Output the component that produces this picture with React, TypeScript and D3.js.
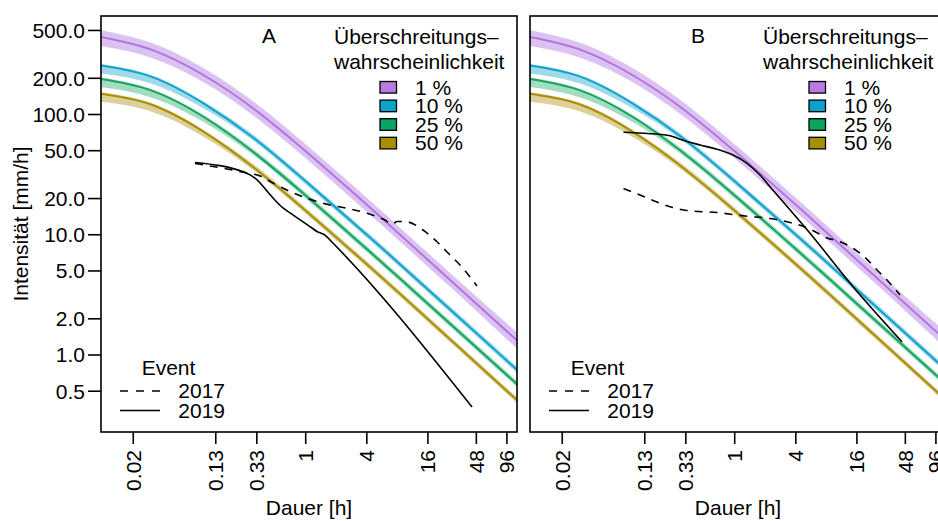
import React from "react";
import * as d3 from "d3";

// ---- data ----
const durations = [0.009, 0.03, 0.1, 0.3, 1, 4, 8, 25, 125];

const p1Mid = [445, 346, 211, 113.3, 49.4, 17.75, 10.5, 4.4, 1.285];
const p1Hi = [508, 395, 241, 129.5, 56.5, 20.3, 12.0, 5.03, 1.5];
const p1Lo = [374, 297, 184.6, 99.1, 43.2, 15.5, 9.19, 3.85, 1.1];

const p10Mid = [258, 206.7, 122.7, 64.7, 27.8, 9.99, 5.94, 2.5, 0.733];
const p10Hi = [265.5, 212.7, 127.5, 68.5, 29.4, 10.58, 6.29, 2.65, 0.776];
const p10Lo = [221, 180.8, 111.5, 61.1, 26.2, 9.43, 5.61, 2.36, 0.692];

const p25Mid = [199, 158.7, 94.9, 49.2, 21.2, 7.6, 4.51, 1.9, 0.558];
const p25Hi = [204.8, 163.3, 98.6, 52.1, 22.45, 8.05, 4.78, 2.01, 0.591];
const p25Lo = [170.7, 138.8, 86.3, 46.5, 20.0, 7.18, 4.26, 1.79, 0.527];

const p50Mid = [150, 121.1, 71.3, 36.8, 15.85, 5.69, 3.37, 1.41, 0.41];
const p50Hi = [154.3, 124.6, 74.1, 39.1, 16.8, 6.03, 3.57, 1.49, 0.434];
const p50Lo = [128.6, 106, 64.8, 34.8, 14.97, 5.37, 3.18, 1.33, 0.387];

const probLabels = ["1 %", "10 %", "25 %", "50 %"];
const probLine = ["#b174e0", "#12a2cc", "#12a563", "#a88f04"];
const probBand = ["#dcc2f1", "#9fd9ea", "#a3dcbf", "#ddd09a"];
const probFill = ["#b97be3", "#0aa3cb", "#0aa562", "#a88f00"];

const evA2019Dur = [0.0812, 0.2523, 0.3167, 0.4763, 0.5974, 0.7003, 1.154, 1.292, 1.549, 1.735, 43.5];
const evA2019Val = [39.9, 32.9, 29.6, 20.2, 16.7, 15.2, 11.38, 10.64, 9.95, 9.04, 0.369];
const evA2017Dur = [0.0812, 0.2523, 0.3547, 0.4763, 0.7003, 1.03, 1.735, 2.552, 4.018, 5.775, 7.246, 7.935, 9.954, 14.31, 19.66, 26.41, 33.13, 48.73];
const evA2017Val = [39.1, 32.9, 30.8, 26.9, 22.9, 20.1, 17.7, 16.6, 15.1, 13.5, 12.3, 12.9, 12.8, 10.95, 8.75, 6.79, 5.6, 3.75];

const evB2019Dur = [0.0802, 0.2305, 0.2891, 0.455, 0.6693, 0.9622, 1.322, 1.776, 2.228, 5.52, 14.64, 44.5];
const evB2019Val = [71.1, 66.6, 62.2, 55.8, 51.4, 46.0, 39.3, 31.4, 25.1, 10.28, 3.7, 1.29];
const evB2017Dur = [0.0802, 0.1167, 0.2305, 0.3388, 0.6693, 1.263, 2.228, 3.506, 5.52, 8.118, 10.9, 14.64, 20.11, 25.23, 31.66, 42.5];
const evB2017Val = [24.2, 21.4, 17.1, 15.9, 15.3, 14.3, 13.65, 12.65, 11.16, 9.4, 8.75, 7.72, 6.25, 5.09, 4.21, 3.15];

const xTicks = [0.02, 0.13, 0.33, 1, 4, 16, 48, 96];
const xTickLabels = ["0.02", "0.13", "0.33", "1", "4", "16", "48", "96"];
const yTicks = [0.5, 1, 2, 5, 10, 20, 50, 100, 200, 500];
const yTickLabels = ["0.5", "1.0", "2.0", "5.0", "10.0", "20.0", "50.0", "100.0", "200.0", "500.0"];

const panelLabels = ["A", "B"];
const legendTitle = ["Überschreitungs–", "wahrscheinlichkeit"];
const eventLabels = ["2017", "2019"];

// ---- layout ----
const W = 938, H = 521;
const PW = 416;
const TOP = 16, BOTTOM = 432;
const FONT = "'Liberation Sans', Arial, Helvetica, sans-serif";
const FS = 21;

const y = d3.scaleLog().domain([0.229, 659.3]).range([BOTTOM, TOP]);

const mids = [p1Mid, p10Mid, p25Mid, p50Mid];
const his = [p1Hi, p10Hi, p25Hi, p50Hi];
const los = [p1Lo, p10Lo, p25Lo, p50Lo];

function Panel({ left, idx, ev2017, ev2019 }: any) {
  const x = d3.scaleLog().domain([0.00962, 120.7]).range([left, left + PW]);
  const smooth = d3.line<[number, number]>().x(d => x(d[0])).y(d => y(d[1])).curve(d3.curveNatural);
  const evl = d3.line<[number, number]>().x(d => x(d[0])).y(d => y(d[1])).curve(d3.curveMonotoneX);
  const bandPath = (k: number) =>
    d3
      .area<number>()
      .x(d => x(d))
      .y0((_, i) => y(los[k][i]))
      .y1((_, i) => y(his[k][i]))
      .curve(d3.curveNatural)(durations) || "";
  const clipId = `clip${idx}`;
  const evLine = (dur: number[], val: number[]) => evl(dur.map((d, i) => [d, val[i]] as [number, number])) || "";
  return (
    <g>
      <defs>
        <clipPath id={clipId}>
          <rect x={left} y={TOP} width={PW} height={BOTTOM - TOP} />
        </clipPath>
      </defs>
      <g clipPath={`url(#${clipId})`}>
        {mids.map((m, k) => (
          <path key={"b" + k} d={bandPath(k)} fill={probBand[k]} stroke="none" />
        ))}
        {mids.map((m, k) => (
          <path
            key={"l" + k}
            d={smooth(durations.map((d, i) => [d, m[i]] as [number, number])) || ""}
            fill="none"
            stroke={probLine[k]}
            strokeWidth={2}
          />
        ))}
        <path d={evLine(ev2017[0], ev2017[1])} fill="none" stroke="#000" strokeWidth={1.6} strokeDasharray="8,7" />
        <path d={evLine(ev2019[0], ev2019[1])} fill="none" stroke="#000" strokeWidth={1.6} />
      </g>
      <rect x={left} y={TOP} width={PW} height={BOTTOM - TOP} fill="none" stroke="#000" strokeWidth={1.6} />
      {xTicks.map((t, i) => (
        <g key={"xt" + i}>
          <line x1={x(t)} x2={x(t)} y1={BOTTOM} y2={BOTTOM + 12} stroke="#000" strokeWidth={1.6} />
          <text
            transform={`translate(${x(t)},${BOTTOM + 18}) rotate(-90)`}
            textAnchor="end"
            dy="0.35em"
            fontSize={FS}
            fontFamily={FONT}
          >
            {xTickLabels[i]}
          </text>
        </g>
      ))}
      <text x={left + PW / 2} y={515} textAnchor="middle" fontSize={FS} fontFamily={FONT}>
        Dauer [h]
      </text>
      <text x={left + 168} y={43} textAnchor="middle" fontSize={FS} fontFamily={FONT}>
        {panelLabels[idx]}
      </text>
      <text x={left + 233} y={44} fontSize={FS} fontFamily={FONT}>{legendTitle[0]}</text>
      <text x={left + 233} y={69} fontSize={FS} fontFamily={FONT}>{legendTitle[1]}</text>
      {probLabels.map((lab, k) => (
        <g key={"lg" + k}>
          <rect x={left + 279} y={87.3 + k * 18.6 - 5.8} width={16.5} height={11.6} fill={probFill[k]} stroke="#000" strokeWidth={1.3} />
          <text x={left + 314} y={87.3 + k * 18.6 + 7.2} fontSize={FS} fontFamily={FONT}>{lab}</text>
        </g>
      ))}
      <text x={left + 40.7} y={375} fontSize={FS} fontFamily={FONT}>Event</text>
      <line x1={left + 19} x2={left + 59} y1={391} y2={391} stroke="#000" strokeWidth={1.6} strokeDasharray="8,8" />
      <line x1={left + 19} x2={left + 59} y1={410.5} y2={410.5} stroke="#000" strokeWidth={1.6} />
      <text x={left + 77.3} y={398.4} fontSize={FS} fontFamily={FONT}>{eventLabels[0]}</text>
      <text x={left + 77.3} y={417.6} fontSize={FS} fontFamily={FONT}>{eventLabels[1]}</text>
    </g>
  );
}

export default function App() {
  return (
    <svg width={W} height={H} style={{ position: "absolute", left: 0, top: 0, background: "#fff" }}>
      <rect x={0} y={0} width={W} height={H} fill="#fff" />
      <Panel left={101} idx={0} ev2017={[evA2017Dur, evA2017Val]} ev2019={[evA2019Dur, evA2019Val]} />
      <Panel left={530} idx={1} ev2017={[evB2017Dur, evB2017Val]} ev2019={[evB2019Dur, evB2019Val]} />
      {yTicks.map((t, i) => (
        <g key={"yt" + i}>
          <line x1={88} x2={101} y1={y(t)} y2={y(t)} stroke="#000" strokeWidth={1.6} />
          <text x={85} y={y(t)} dy="0.35em" textAnchor="end" fontSize={FS} fontFamily={FONT}>
            {yTickLabels[i]}
          </text>
        </g>
      ))}
      <text transform={`translate(28,224) rotate(-90)`} textAnchor="middle" fontSize={FS} fontFamily={FONT}>
        Intensität [mm/h]
      </text>
    </svg>
  );
}
